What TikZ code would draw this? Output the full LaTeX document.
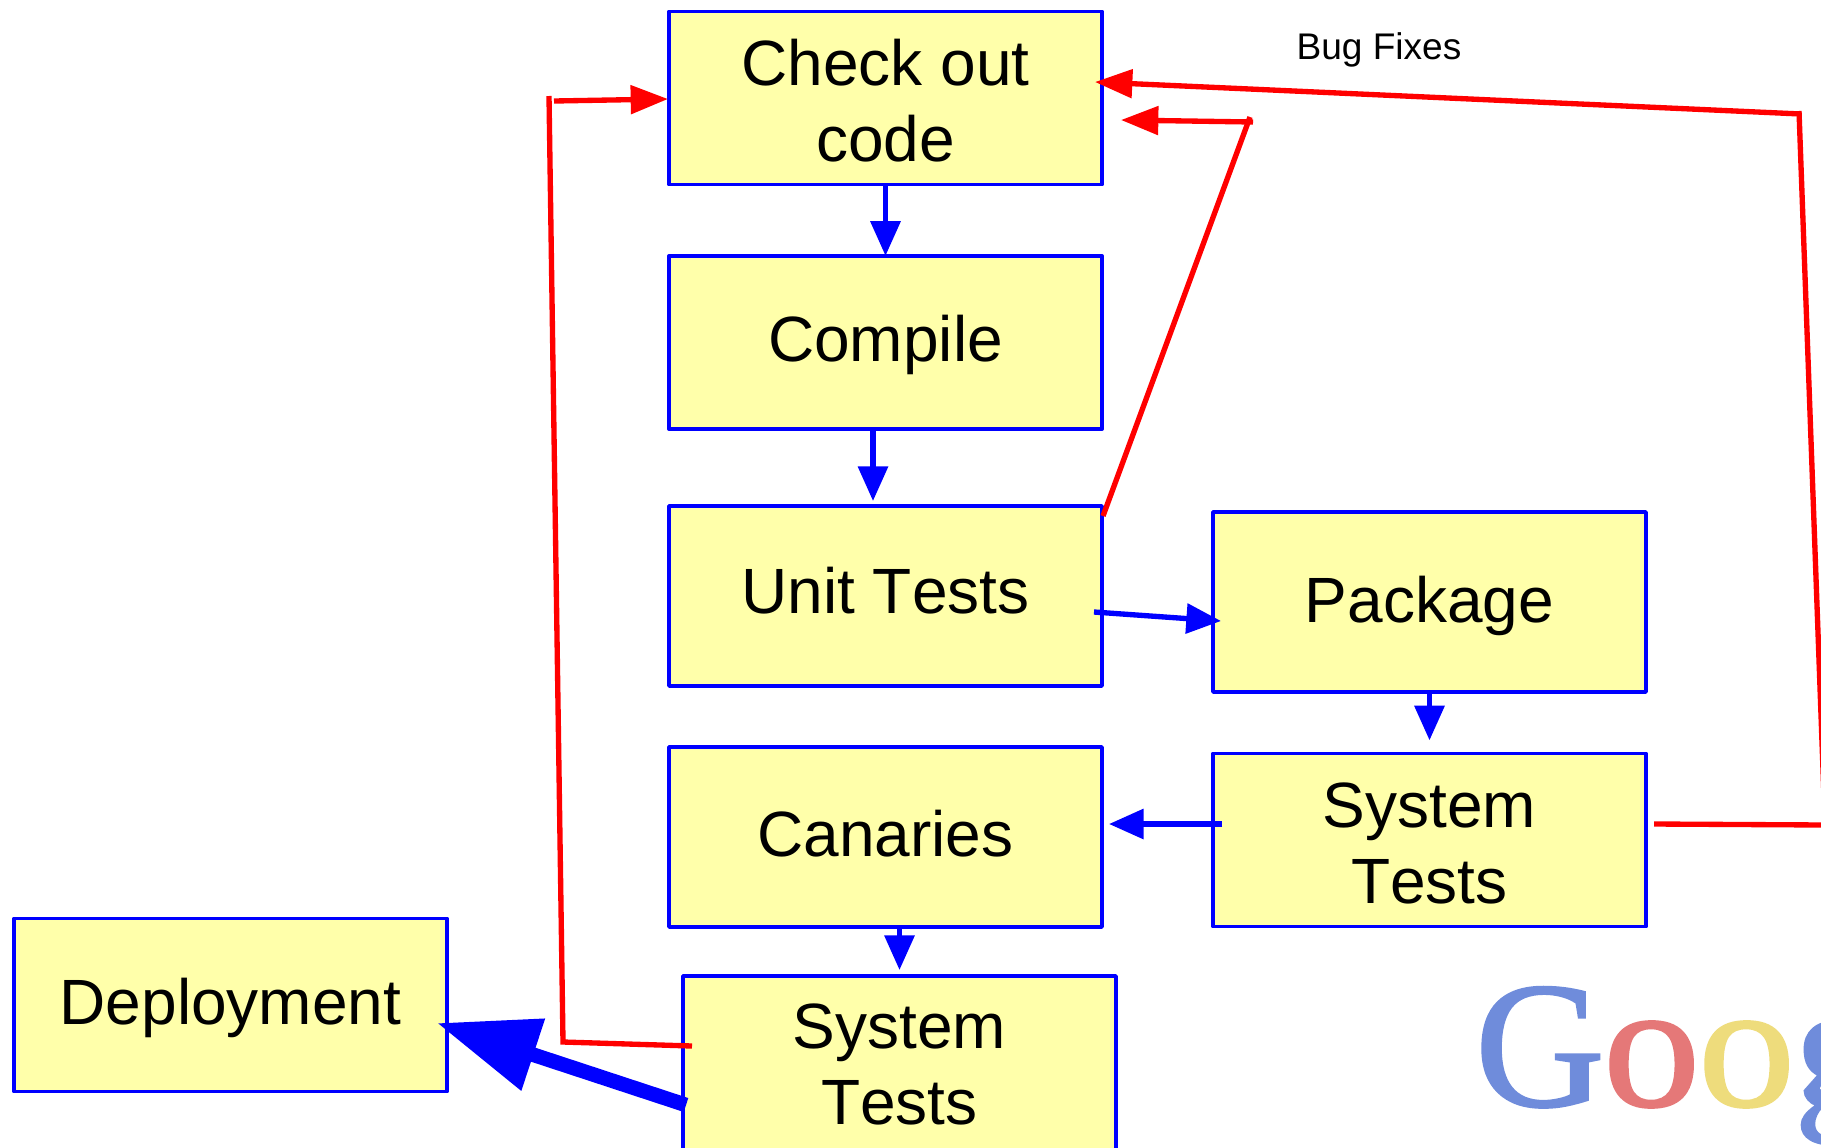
\documentclass[tikz,border=0pt]{standalone}
\usepackage{fontspec}
\setmainfont[Kerning=Off]{Liberation Sans}
\newfontfamily\logofont[FakeBold=1.2]{Liberation Serif}
\usetikzlibrary{arrows.meta,calc}
\definecolor{boxfill}{HTML}{FFFFAA}
\definecolor{gblue}{HTML}{6F8CDB}
\definecolor{gred}{HTML}{E57878}
\definecolor{gyellow}{HTML}{EEDC7C}
\tikzset{
  stepbox/.style={draw=blue,fill=boxfill,line width=2.7pt,line join=round,outer sep=0pt,inner sep=0pt,
    minimum width=324.75pt,minimum height=130pt,align=center,
    font=\fontsize{48}{57}\selectfont},
  oneline/.style={text height=#1,text depth=0pt},
  flow/.style={draw=blue,line width=4pt,-{Triangle[length=26pt,width=22pt]}},
  bigflow/.style={draw=blue,line width=11pt,-{Triangle[length=76pt,width=54pt]}},
  fix/.style={draw=red,line width=4pt,line join=miter},
  fixarrow/.style={draw=red,line width=4pt,-{Triangle[length=28pt,width=21pt]}},
  logo/.style={inner sep=0pt,outer sep=0pt,anchor=base west,font=\logofont\fontsize{135}{135}\selectfont}
}
\newcommand{\toprule}{\rule{0pt}{38.5pt}}
\begin{document}
\begin{tikzpicture}[x=0.75pt,y=-0.75pt]
\useasboundingbox (0,0) rectangle (1821,1147);
\clip (0,0) rectangle (1821,1147);
% Google logo, clipped by the picture edge
\node[logo,text=gblue] (lg1) at (1475,1106) {G};
\node[logo,text=gred] (lo1) at (1603,1106) {\scalebox{1.08}[1]{o}};
\node[logo,text=gyellow] (lo2) at (1698,1106) {\scalebox{1.08}[1]{o}};
\node[logo,text=gblue] (lg2) at (1794,1106) {g};
% boxes
\node[stepbox,minimum height=130pt] (check) at (885.5,98) {\toprule Check out\\code};
\node[stepbox,minimum height=130pt,oneline=28.5pt] (compile) at (885.5,342.5) {Compile};
\node[stepbox,minimum height=135pt,oneline=26.3pt] (unit) at (885.5,596) {Unit Tests};
\node[stepbox,minimum height=135pt,oneline=30.2pt] (package) at (1429.5,602) {Package};
\node[stepbox,minimum height=130pt] (sysr) at (1429.5,840) {\toprule System\\Tests};
\node[stepbox,minimum height=135pt,oneline=29.8pt] (canaries) at (885.5,837) {Canaries};
\node[stepbox,minimum height=135pt] (sysb) at (899.5,1066) {System\\Tests\rule[-2.5pt]{0pt}{1pt}};
\node[stepbox,minimum height=130pt,oneline=28.5pt] (deploy) at (230.5,1005) {Deployment};
\node[font=\fontsize{27.8}{32}\selectfont,inner sep=0pt] (bug) at (1379,49.5) {Bug Fixes};
% blue connectors
\draw[flow] (check.south) -- (compile.north);
\draw[flow] ($(compile.south)+(-12.5,0)$) -- ($(unit.north)+(-12.5,-5)$);
\coordinate (u1) at (1094,612);
\coordinate (p1) at (1221,621);
\draw[flow] (u1) -- (p1);
\draw[flow] (package.south) -- ($(sysr.north)+(0,-13)$);
\coordinate (s1) at (1222,824);
\coordinate (c1) at (1109,824);
\draw[flow] (s1) -- (c1);
\draw[flow] ($(canaries.south)+(14,0)$) -- ($(sysb.north)+(0,-6)$);
\coordinate (b1) at (686,1105);
\coordinate (d1) at (437,1023);
\draw[bigflow] (b1) -- (d1);
% red connectors
\coordinate (r1) at (692,1046);
\coordinate (r2) at (563,1042);
\coordinate (r3) at (549,96);
\coordinate (r4) at (554,101);
\coordinate (r5) at (668,99);
\draw[fix] (r1) -- (r2) -- (r3);
\draw[fixarrow] (r4) -- (r5);
\coordinate (n1) at (1103,516);
\coordinate (n2) at (1250,117);
\coordinate (n3) at (1253,122);
\coordinate (n4) at (1121,120);
\draw[fix] (n1) -- (n2);
\draw[fixarrow] (n3) -- (n4);
\coordinate (f1) at (1654,824);
\coordinate (f2) at (1825,825);
\coordinate (f3) at (1825,825);
\coordinate (f4) at (1799,111);
\coordinate (f5) at (1801,114);
\coordinate (f6) at (1095,82);
\draw[fix] (f1) -- (f2);
\draw[fix] (f3) -- (f4);
\draw[fixarrow] (f5) -- (f6);
\end{tikzpicture}
\end{document}
